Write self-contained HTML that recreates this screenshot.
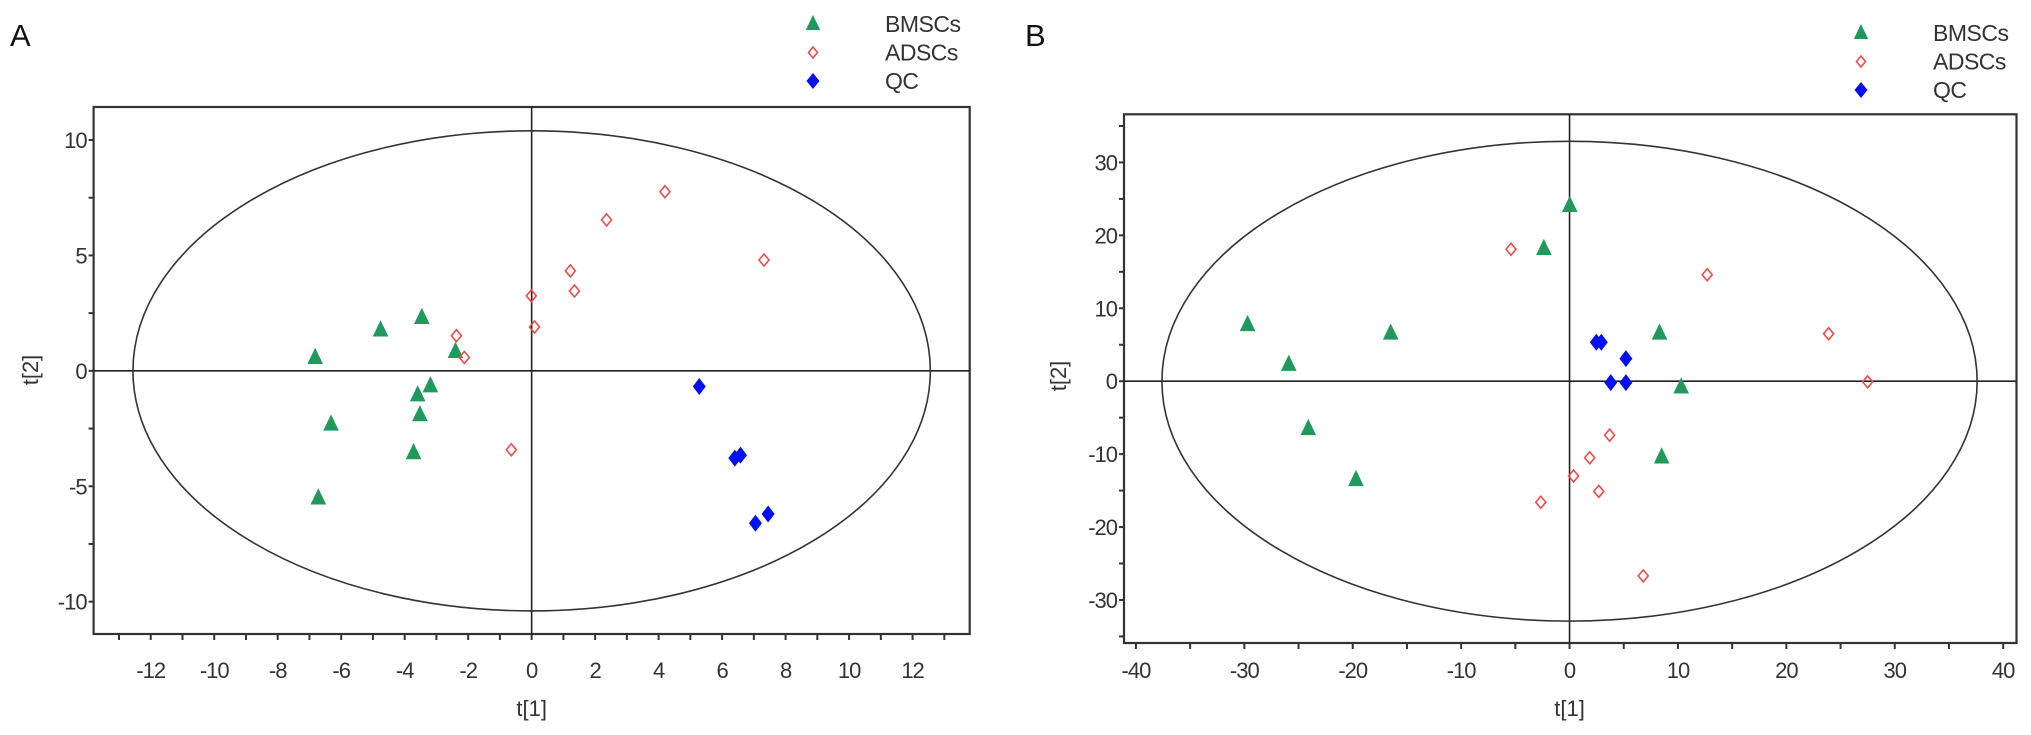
<!DOCTYPE html>
<html><head><meta charset="utf-8">
<style>
html,body{margin:0;padding:0;background:#fff;}
svg{display:block;}
text{font-family:"Liberation Sans",Arial,sans-serif;fill:#333;}
</style></head>
<body>
<svg id="chart" width="2031" height="735" viewBox="0 0 2031 735" xmlns="http://www.w3.org/2000/svg">
<text x="10" y="46" font-size="31" style="fill:#111">A</text>
<text x="1025" y="46" font-size="31" style="fill:#111">B</text>
</svg>
<script>
// Panel A data
const aBmscX = [-6.82,-4.76,-3.46,-2.4,-3.19,-3.59,-3.52,-6.32,-3.72,-6.72];
const aBmscY = [0.58,1.77,2.31,0.84,-0.65,-1.04,-1.9,-2.31,-3.55,-5.51];
const aAdscX = [-2.37,-2.12,-0.01,0.09,1.22,1.35,2.36,4.2,7.32,-0.64];
const aAdscY = [1.52,0.58,3.25,1.9,4.33,3.46,6.54,7.76,4.8,-3.42];
const aQcX = [5.28,6.4,6.58,7.05,7.45];
const aQcY = [-0.68,-3.78,-3.65,-6.6,-6.2];
const aXTicks = [-12,-10,-8,-6,-4,-2,0,2,4,6,8,10,12];
const aYTicks = [-10,-5,0,5,10];
const aEllipse = [12.56,10.4];
// Panel B data
const bBmscX = [-29.7,-25.9,-16.5,-2.37,0.02,8.3,10.3,-24.1,-19.7,8.5];
const bBmscY = [7.75,2.3,6.6,18.2,24.1,6.6,-0.8,-6.5,-13.5,-10.4];
const bAdscX = [-5.4,12.7,23.9,27.5,-2.65,3.7,1.86,0.37,2.7,6.8];
const bAdscY = [18.1,14.6,6.5,-0.1,-16.6,-7.4,-10.5,-13,-15.1,-26.7];
const bQcX = [2.47,2.93,5.2,3.8,5.2];
const bQcY = [5.35,5.35,3.1,-0.2,-0.2];
const bXTicks = [-40,-30,-20,-10,0,10,20,30,40];
const bYTicks = [-30,-20,-10,0,10,20,30];
const bEllipse = [37.6,32.9];

const NS="http://www.w3.org/2000/svg";
const svg=document.getElementById('chart');
function mk(tag,attrs,parent){const e=document.createElementNS(NS,tag);for(const k in attrs)e.setAttribute(k,attrs[k]);(parent||svg).appendChild(e);return e;}

function panel(p){
  const g=mk('g',{});
  
  
  const sx=v=>p.L+(v-p.xmin)/(p.xmax-p.xmin)*(p.R-p.L);
  const sy=v=>p.B-(v-p.ymin)/(p.ymax-p.ymin)*(p.B-p.T);
  const frame=mk('rect',{x:p.L,y:p.T,width:p.R-p.L,height:p.B-p.T,fill:'none',stroke:'#333','stroke-width':2.2},g);
  
  
  const vz=mk('line',{x1:sx(0),x2:sx(0),y1:p.T,y2:p.B,stroke:'#222','stroke-width':1.6},g);
  
  
  const hz=mk('line',{x1:p.L,x2:p.R,y1:sy(0),y2:sy(0),stroke:'#222','stroke-width':1.6},g);
  
  
  const el=mk('ellipse',{cx:sx(0),cy:sy(0),rx:sx(p.ell[0])-sx(0),ry:sy(0)-sy(p.ell[1]),fill:'none',stroke:'#333','stroke-width':1.6},g);
  
  
  for(let v=Math.ceil(p.xmin/p.xminor)*p.xminor; v<=p.xmax; v+=p.xminor){
    const t=mk('line',{x1:sx(v),x2:sx(v),y1:p.B,y2:p.B+6,stroke:'#333','stroke-width':2},g);
    
    
  }
  for(let v=Math.ceil(p.ymin/p.yminor)*p.yminor; v<=p.ymax; v+=p.yminor){
    const t=mk('line',{x1:p.L-5,x2:p.L,y1:sy(v),y2:sy(v),stroke:'#333','stroke-width':2},g);
    
    
  }
  p.xt.forEach(v=>{
    const t=mk('text',{x:sx(v),y:678,'text-anchor':'middle','font-size':22,'letter-spacing':-1},g);
    t.textContent=String(v);
    
    
  });
  p.yt.forEach(v=>{
    const t=mk('text',{x:p.L-7,y:sy(v)+8,'text-anchor':'end','font-size':22,'letter-spacing':-1},g);
    t.textContent=String(v);
    
    
  });
  const xt=mk('text',{x:sx(0),y:716,'text-anchor':'middle','font-size':22},g);
  xt.textContent='t[1]';
  
  
  const yt=mk('text',{x:0,y:0,'text-anchor':'middle','font-size':22,transform:`translate(${p.ytX},${p.ytY}) rotate(-90)`},g);
  yt.textContent='t[2]';
  
  
  const tri=(x,y,s)=>`M${x},${y-s*0.75} L${x+s*0.6},${y+s*0.5} L${x-s*0.6},${y+s*0.5}Z`;
  const dia=(x,y,w,h)=>`M${x},${y-h} L${x+w},${y} L${x},${y+h} L${x-w},${y}Z`;
  p.bx.forEach((v,i)=>{
    const m=mk('path',{d:tri(sx(v),sy(p.by[i]),13),fill:'#1f9a5c'},g);
    
    
  });
  p.ax.forEach((v,i)=>{
    const m=mk('path',{d:dia(sx(v),sy(p.ay[i]),5,6),fill:'none',stroke:'#ee4b4b','stroke-width':1.6},g);
    
    
  });
  p.qx.forEach((v,i)=>{
    const m=mk('path',{d:dia(sx(v),sy(p.qy[i]),6.5,8.5),fill:'#0010ee'},g);
    
    
  });
  const lg=mk('g',{},g);
  
  
  const names=['BMSCs','ADSCs','QC'];
  names.forEach((n,i)=>{
    const y=p.legY+i*28.5, x=p.legX;
    let m;
    if(i===0) m=mk('path',{d:tri(x,y,12),fill:'#1f9a5c'},lg);
    else if(i===1) m=mk('path',{d:dia(x,y,4.5,5.5),fill:'none',stroke:'#ee4b4b','stroke-width':1.6},lg);
    else m=mk('path',{d:dia(x,y,6.5,8),fill:'#0010ee'},lg);
    
    
    const t=mk('text',{x:p.legX+72,y:y+8,'font-size':23,'letter-spacing':-0.5},lg);
    t.textContent=n;
    
    
  });
}

panel({id:'panel-a',L:93.6,R:969.7,T:107,B:634,xmin:-13.8,xmax:13.8,ymin:-11.4,ymax:11.43,
  xminor:1,yminor:2.5,xt:aXTicks,yt:aYTicks,ell:aEllipse,ytX:38,ytY:370,
  bx:aBmscX,by:aBmscY,ax:aAdscX,ay:aAdscY,qx:aQcX,qy:aQcY,legX:813,legY:24});
panel({id:'panel-b',L:1124,R:2016.5,T:114.3,B:643,xmin:-41.1,xmax:41.23,ymin:-35.9,ymax:36.6,
  xminor:5,yminor:5,xt:bXTicks,yt:bYTicks,ell:bEllipse,ytX:1066,ytY:376,
  bx:bBmscX,by:bBmscY,ax:bAdscX,ay:bAdscY,qx:bQcX,qy:bQcY,legX:1861,legY:33});
</script>
</body></html>
